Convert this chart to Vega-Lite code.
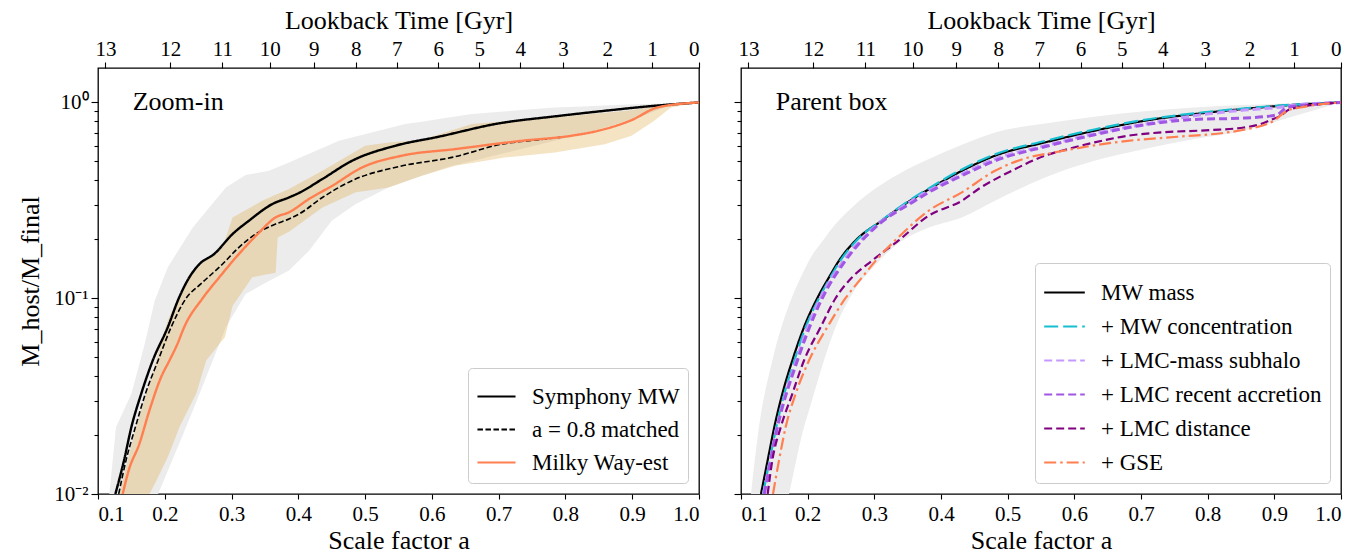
{
  "$schema": "https://vega.github.io/schema/vega-lite/v6.json",
  "background": "white",
  "padding": {"left": 17, "top": 6, "right": 3, "bottom": 1},
  "spacing": 31,
  "datasets": {
    "left_grey": [
      {"a":0.117,"lo":0.00251,"hi":0.01},{"a":0.127,"lo":0.00309,"hi":0.02198},{"a":0.15,"lo":0.00479,"hi":0.03251},
      {"a":0.17,"lo":0.00692,"hi":0.05848},{"a":0.185,"lo":0.00912,"hi":0.09727},{"a":0.19,"lo":0.01,"hi":0.1076},
      {"a":0.2045,"lo":0.01312,"hi":0.1439},{"a":0.232,"lo":0.02198,"hi":0.2032},{"a":0.242,"lo":0.02673,"hi":0.2301},
      {"a":0.262,"lo":0.03954,"hi":0.278},{"a":0.2915,"lo":0.07112,"hi":0.3681},{"a":0.321,"lo":0.1052,"hi":0.4256},
      {"a":0.356,"lo":0.1225,"hi":0.4477},{"a":0.386,"lo":0.1384,"hi":0.4943},{"a":0.416,"lo":0.175,"hi":0.547},
      {"a":0.45,"lo":0.2489,"hi":0.6138},{"a":0.4607,"lo":0.2636,"hi":0.6374},{"a":0.486,"lo":0.3027,"hi":0.6699},
      {"a":0.535,"lo":0.3681,"hi":0.7379},{"a":0.56,"lo":0.3945,"hi":0.7753},{"a":0.585,"lo":0.4227,"hi":0.798},
      {"a":0.625,"lo":0.4699,"hi":0.8375},{"a":0.66,"lo":0.5023,"hi":0.872},{"a":0.734,"lo":0.5781,"hi":0.9141},
      {"a":0.784,"lo":0.6372,"hi":0.943},{"a":0.834,"lo":0.7031,"hi":0.9572},{"a":0.8836,"lo":0.7907,"hi":0.9727},
      {"a":0.909,"lo":0.8385,"hi":0.9786},{"a":0.948,"lo":0.943,"hi":0.9874},{"a":1.0,"lo":1.0,"hi":1.0}
    ],
    "left_tan": [
      {"a":0.132,"lo":0.00513,"hi":0.01},{"a":0.157,"lo":0.00741,"hi":0.02198},{"a":0.177,"lo":0.01,"hi":0.03707},
      {"a":0.187,"lo":0.01161,"hi":0.04808},{"a":0.2045,"lo":0.01545,"hi":0.07691},{"a":0.215,"lo":0.01905,"hi":0.09183},
      {"a":0.222,"lo":0.02198,"hi":0.1033},{"a":0.237,"lo":0.0278,"hi":0.133},{"a":0.247,"lo":0.03251,"hi":0.1419},
      {"a":0.262,"lo":0.04808,"hi":0.1567},{"a":0.2866,"lo":0.0611,"hi":0.182},{"a":0.29,"lo":0.0631,"hi":0.1972},
      {"a":0.3015,"lo":0.0912,"hi":0.2588},{"a":0.331,"lo":0.1279,"hi":0.2944},{"a":0.346,"lo":0.1309,"hi":0.3148},
      {"a":0.366,"lo":0.1349,"hi":0.3373},{"a":0.369,"lo":0.2042,"hi":0.3404},{"a":0.386,"lo":0.2188,"hi":0.3614},
      {"a":0.436,"lo":0.2911,"hi":0.4477},{"a":0.486,"lo":0.3475,"hi":0.5636},{"a":0.5,"lo":0.3532,"hi":0.6012},
      {"a":0.535,"lo":0.3681,"hi":0.6252},{"a":0.585,"lo":0.4227,"hi":0.6457},{"a":0.635,"lo":0.4753,"hi":0.7295},
      {"a":0.66,"lo":0.4909,"hi":0.7762},{"a":0.709,"lo":0.5236,"hi":0.8017},{"a":0.784,"lo":0.5559,"hi":0.8433},
      {"a":0.859,"lo":0.6124,"hi":0.8872},{"a":0.899,"lo":0.6761,"hi":0.912},{"a":0.933,"lo":0.8064,"hi":0.9616},
      {"a":0.958,"lo":0.943,"hi":0.9795},{"a":1.0,"lo":1.0,"hi":1.0}
    ],
    "left_lines": [
      {"s":"Symphony MW","a":0.126,"v":0.01},{"s":"Symphony MW","a":0.139,"v":0.01486},{"s":"Symphony MW","a":0.15,"v":0.02198},
      {"s":"Symphony MW","a":0.1647,"v":0.03251},{"s":"Symphony MW","a":0.182,"v":0.04808},{"s":"Symphony MW","a":0.2045,"v":0.07112},
      {"s":"Symphony MW","a":0.221,"v":0.1},{"s":"Symphony MW","a":0.2368,"v":0.1279},{"s":"Symphony MW","a":0.252,"v":0.1496},
      {"s":"Symphony MW","a":0.274,"v":0.1683},{"s":"Symphony MW","a":0.3015,"v":0.2128},{"s":"Symphony MW","a":0.326,"v":0.2489},
      {"s":"Symphony MW","a":0.361,"v":0.3027},{"s":"Symphony MW","a":0.386,"v":0.3273},{"s":"Symphony MW","a":0.401,"v":0.345},
      {"s":"Symphony MW","a":0.436,"v":0.4064},{"s":"Symphony MW","a":0.4806,"v":0.504},{"s":"Symphony MW","a":0.5454,"v":0.6012},
      {"s":"Symphony MW","a":0.61,"v":0.6683},{"s":"Symphony MW","a":0.7,"v":0.7816},{"s":"Symphony MW","a":0.784,"v":0.8492},
      {"s":"Symphony MW","a":0.859,"v":0.9068},{"s":"Symphony MW","a":0.933,"v":0.9616},{"s":"Symphony MW","a":1.0,"v":1.0},
      {"s":"a = 0.8 matched","a":0.131,"v":0.01},{"s":"a = 0.8 matched","a":0.142,"v":0.01486},{"s":"a = 0.8 matched","a":0.156,"v":0.02198},
      {"s":"a = 0.8 matched","a":0.171,"v":0.03251},{"s":"a = 0.8 matched","a":0.19,"v":0.04808},{"s":"a = 0.8 matched","a":0.2095,"v":0.07112},
      {"s":"a = 0.8 matched","a":0.232,"v":0.1},{"s":"a = 0.8 matched","a":0.254,"v":0.1183},{"s":"a = 0.8 matched","a":0.2866,"v":0.1496},
      {"s":"a = 0.8 matched","a":0.311,"v":0.182},{"s":"a = 0.8 matched","a":0.336,"v":0.2128},{"s":"a = 0.8 matched","a":0.366,"v":0.2393},
      {"s":"a = 0.8 matched","a":0.386,"v":0.2541},{"s":"a = 0.8 matched","a":0.401,"v":0.2692},{"s":"a = 0.8 matched","a":0.436,"v":0.327},
      {"s":"a = 0.8 matched","a":0.4857,"v":0.4064},{"s":"a = 0.8 matched","a":0.55,"v":0.4699},{"s":"a = 0.8 matched","a":0.635,"v":0.5284},
      {"s":"a = 0.8 matched","a":0.7045,"v":0.613},{"s":"a = 0.8 matched","a":0.76,"v":0.645},{"s":"a = 0.8 matched","a":0.8,"v":0.668},
      {"s":"Milky Way-est","a":0.137,"v":0.01},{"s":"Milky Way-est","a":0.146,"v":0.01321},{"s":"Milky Way-est","a":0.162,"v":0.01807},
      {"s":"Milky Way-est","a":0.177,"v":0.02673},{"s":"Milky Way-est","a":0.1945,"v":0.03954},{"s":"Milky Way-est","a":0.207,"v":0.04808},
      {"s":"Milky Way-est","a":0.219,"v":0.05848},{"s":"Milky Way-est","a":0.229,"v":0.07112},{"s":"Milky Way-est","a":0.2567,"v":0.1},
      {"s":"Milky Way-est","a":0.2816,"v":0.1279},{"s":"Milky Way-est","a":0.311,"v":0.1683},{"s":"Milky Way-est","a":0.339,"v":0.2128},
      {"s":"Milky Way-est","a":0.366,"v":0.2588},{"s":"Milky Way-est","a":0.386,"v":0.2748},{"s":"Milky Way-est","a":0.416,"v":0.3214},
      {"s":"Milky Way-est","a":0.451,"v":0.3758},{"s":"Milky Way-est","a":0.4955,"v":0.4656},{"s":"Milky Way-est","a":0.555,"v":0.5346},
      {"s":"Milky Way-est","a":0.635,"v":0.5781},{"s":"Milky Way-est","a":0.734,"v":0.6368},{"s":"Milky Way-est","a":0.809,"v":0.6761},
      {"s":"Milky Way-est","a":0.849,"v":0.7168},{"s":"Milky Way-est","a":0.899,"v":0.8128},{"s":"Milky Way-est","a":0.938,"v":0.943},
      {"s":"Milky Way-est","a":1.0,"v":1.0}
    ],
    "right_grey": [
      {"a":0.115,"lo":0.00158,"hi":0.01},{"a":0.127,"lo":0.00209,"hi":0.02198},{"a":0.147,"lo":0.00417,"hi":0.04808},
      {"a":0.172,"lo":0.01,"hi":0.09226},{"a":0.1945,"lo":0.02198,"hi":0.1384},{"a":0.202,"lo":0.02673,"hi":0.1556},
      {"a":0.2244,"lo":0.04808,"hi":0.2},{"a":0.2418,"lo":0.07112,"hi":0.2393},{"a":0.2667,"lo":0.1052,"hi":0.2911},
      {"a":0.3015,"lo":0.1479,"hi":0.3631},{"a":0.336,"lo":0.1905,"hi":0.4305},{"a":0.381,"lo":0.2291,"hi":0.5129},
      {"a":0.4313,"lo":0.2588,"hi":0.6081},{"a":0.481,"lo":0.3148,"hi":0.7031},{"a":0.556,"lo":0.414,"hi":0.7798},
      {"a":0.63,"lo":0.5035,"hi":0.8465},{"a":0.705,"lo":0.5781,"hi":0.9024},{"a":0.78,"lo":0.6501,"hi":0.943},
      {"a":0.854,"lo":0.7161,"hi":0.9712},{"a":0.929,"lo":0.8511,"hi":0.9897},{"a":1.0,"lo":1.0,"hi":1.0}
    ],
    "right_lines": [
      {"s":"MW mass","a":0.13,"v":0.01},{"s":"MW mass","a":0.14,"v":0.01486},{"s":"MW mass","a":0.15,"v":0.02198},
      {"s":"MW mass","a":0.162,"v":0.03251},{"s":"MW mass","a":0.177,"v":0.04808},{"s":"MW mass","a":0.1945,"v":0.07112},
      {"s":"MW mass","a":0.2144,"v":0.1},{"s":"MW mass","a":0.232,"v":0.1279},{"s":"MW mass","a":0.247,"v":0.1556},
      {"s":"MW mass","a":0.2716,"v":0.1968},{"s":"MW mass","a":0.311,"v":0.2489},{"s":"MW mass","a":0.346,"v":0.3027},
      {"s":"MW mass","a":0.3816,"v":0.36},{"s":"MW mass","a":0.4313,"v":0.4477},{"s":"MW mass","a":0.481,"v":0.5346},
      {"s":"MW mass","a":0.556,"v":0.6252},{"s":"MW mass","a":0.63,"v":0.7168},{"s":"MW mass","a":0.705,"v":0.8064},
      {"s":"MW mass","a":0.78,"v":0.872},{"s":"MW mass","a":0.879,"v":0.943},{"s":"MW mass","a":0.929,"v":0.9727},
      {"s":"MW mass","a":1.0,"v":1.0},
      {"s":"+ MW concentration","a":0.133,"v":0.01},{"s":"+ MW concentration","a":0.143,"v":0.01486},{"s":"+ MW concentration","a":0.153,"v":0.02198},
      {"s":"+ MW concentration","a":0.165,"v":0.03251},{"s":"+ MW concentration","a":0.18,"v":0.04808},{"s":"+ MW concentration","a":0.197,"v":0.07112},
      {"s":"+ MW concentration","a":0.217,"v":0.1},{"s":"+ MW concentration","a":0.234,"v":0.1279},{"s":"+ MW concentration","a":0.249,"v":0.1556},
      {"s":"+ MW concentration","a":0.273,"v":0.1968},{"s":"+ MW concentration","a":0.311,"v":0.25},{"s":"+ MW concentration","a":0.346,"v":0.305},
      {"s":"+ MW concentration","a":0.3816,"v":0.364},{"s":"+ MW concentration","a":0.4313,"v":0.455},{"s":"+ MW concentration","a":0.481,"v":0.543},
      {"s":"+ MW concentration","a":0.556,"v":0.636},{"s":"+ MW concentration","a":0.63,"v":0.728},{"s":"+ MW concentration","a":0.705,"v":0.815},
      {"s":"+ MW concentration","a":0.78,"v":0.88},{"s":"+ MW concentration","a":0.879,"v":0.948},{"s":"+ MW concentration","a":0.929,"v":0.975},
      {"s":"+ MW concentration","a":1.0,"v":1.0},
      {"s":"+ LMC-mass subhalo","a":0.134,"v":0.01},{"s":"+ LMC-mass subhalo","a":0.144,"v":0.01486},{"s":"+ LMC-mass subhalo","a":0.154,"v":0.02198},
      {"s":"+ LMC-mass subhalo","a":0.167,"v":0.03251},{"s":"+ LMC-mass subhalo","a":0.183,"v":0.04808},{"s":"+ LMC-mass subhalo","a":0.2,"v":0.07112},
      {"s":"+ LMC-mass subhalo","a":0.219,"v":0.1},{"s":"+ LMC-mass subhalo","a":0.254,"v":0.1556},{"s":"+ LMC-mass subhalo","a":0.3,"v":0.2301},
      {"s":"+ LMC-mass subhalo","a":0.34,"v":0.29},{"s":"+ LMC-mass subhalo","a":0.3816,"v":0.354},{"s":"+ LMC-mass subhalo","a":0.4313,"v":0.4308},
      {"s":"+ LMC-mass subhalo","a":0.4811,"v":0.514},{"s":"+ LMC-mass subhalo","a":0.5557,"v":0.601},{"s":"+ LMC-mass subhalo","a":0.6304,"v":0.695},
      {"s":"+ LMC-mass subhalo","a":0.705,"v":0.775},{"s":"+ LMC-mass subhalo","a":0.7796,"v":0.855},{"s":"+ LMC-mass subhalo","a":0.8543,"v":0.914},
      {"s":"+ LMC-mass subhalo","a":0.904,"v":0.943},{"s":"+ LMC-mass subhalo","a":0.9289,"v":0.969},{"s":"+ LMC-mass subhalo","a":1.0,"v":1.0},
      {"s":"+ LMC recent accretion","a":0.135,"v":0.01},{"s":"+ LMC recent accretion","a":0.1547,"v":0.02198},{"s":"+ LMC recent accretion","a":0.1846,"v":0.04808},
      {"s":"+ LMC recent accretion","a":0.2219,"v":0.1},{"s":"+ LMC recent accretion","a":0.2567,"v":0.1556},{"s":"+ LMC recent accretion","a":0.3015,"v":0.2301},
      {"s":"+ LMC recent accretion","a":0.361,"v":0.3148},{"s":"+ LMC recent accretion","a":0.3816,"v":0.3475},{"s":"+ LMC recent accretion","a":0.4313,"v":0.4227},
      {"s":"+ LMC recent accretion","a":0.4811,"v":0.504},{"s":"+ LMC recent accretion","a":0.5557,"v":0.594},{"s":"+ LMC recent accretion","a":0.6304,"v":0.684},
      {"s":"+ LMC recent accretion","a":0.705,"v":0.769},{"s":"+ LMC recent accretion","a":0.7796,"v":0.819},{"s":"+ LMC recent accretion","a":0.8543,"v":0.832},
      {"s":"+ LMC recent accretion","a":0.904,"v":0.865},{"s":"+ LMC recent accretion","a":0.9189,"v":0.943},{"s":"+ LMC recent accretion","a":0.9537,"v":0.973},
      {"s":"+ LMC recent accretion","a":1.0,"v":1.0},
      {"s":"+ LMC distance","a":0.14,"v":0.01},{"s":"+ LMC distance","a":0.147,"v":0.01486},{"s":"+ LMC distance","a":0.1597,"v":0.02198},
      {"s":"+ LMC distance","a":0.177,"v":0.03251},{"s":"+ LMC distance","a":0.1945,"v":0.04808},{"s":"+ LMC distance","a":0.2194,"v":0.07112},
      {"s":"+ LMC distance","a":0.2418,"v":0.1},{"s":"+ LMC distance","a":0.2667,"v":0.1279},{"s":"+ LMC distance","a":0.2965,"v":0.1556},
      {"s":"+ LMC distance","a":0.336,"v":0.1968},{"s":"+ LMC distance","a":0.3816,"v":0.2642},{"s":"+ LMC distance","a":0.4313,"v":0.3148},
      {"s":"+ LMC distance","a":0.4562,"v":0.3614},{"s":"+ LMC distance","a":0.506,"v":0.4477},{"s":"+ LMC distance","a":0.5557,"v":0.5346},
      {"s":"+ LMC distance","a":0.5906,"v":0.5781},{"s":"+ LMC distance","a":0.6304,"v":0.6252},{"s":"+ LMC distance","a":0.6801,"v":0.6761},
      {"s":"+ LMC distance","a":0.7299,"v":0.7031},{"s":"+ LMC distance","a":0.8045,"v":0.7228},{"s":"+ LMC distance","a":0.8543,"v":0.7447},
      {"s":"+ LMC distance","a":0.8791,"v":0.7753},{"s":"+ LMC distance","a":0.894,"v":0.8128},{"s":"+ LMC distance","a":0.909,"v":0.8551},
      {"s":"+ LMC distance","a":0.9239,"v":0.9247},{"s":"+ LMC distance","a":1.0,"v":1.0},
      {"s":"+ GSE","a":0.148,"v":0.01},{"s":"+ GSE","a":0.157,"v":0.01486},{"s":"+ GSE","a":0.167,"v":0.02198},
      {"s":"+ GSE","a":0.182,"v":0.03251},{"s":"+ GSE","a":0.202,"v":0.04808},{"s":"+ GSE","a":0.2294,"v":0.07112},
      {"s":"+ GSE","a":0.2567,"v":0.1},{"s":"+ GSE","a":0.2816,"v":0.1279},{"s":"+ GSE","a":0.3065,"v":0.1618},
      {"s":"+ GSE","a":0.336,"v":0.2046},{"s":"+ GSE","a":0.3816,"v":0.2799},{"s":"+ GSE","a":0.4313,"v":0.3475},
      {"s":"+ GSE","a":0.4811,"v":0.4477},{"s":"+ GSE","a":0.5309,"v":0.5236},{"s":"+ GSE","a":0.5707,"v":0.5559},
      {"s":"+ GSE","a":0.6055,"v":0.5848},{"s":"+ GSE","a":0.6801,"v":0.6368},{"s":"+ GSE","a":0.7548,"v":0.6683},
      {"s":"+ GSE","a":0.8294,"v":0.7031},{"s":"+ GSE","a":0.8593,"v":0.7311},{"s":"+ GSE","a":0.899,"v":0.8064},
      {"s":"+ GSE","a":0.9189,"v":0.9068},{"s":"+ GSE","a":0.9388,"v":0.943},{"s":"+ GSE","a":1.0,"v":1.0}
    ]
  },
  "hconcat": [
    {
      "width": 601,
      "height": 426,
      "layer": [
        {
          "data": {"name": "left_grey"},
          "mark": {"type": "area", "fill": "#ececec", "clip": true},
          "encoding": {
            "x": {"field": "a", "type": "quantitative", "scale": {"domain": [0.1, 1.0], "nice": false, "zero": false},
              "axis": {"orient": "bottom", "values": [0.1,0.2,0.3,0.4,0.5,0.6,0.7,0.8,0.9,1.0], "format": ".1f", "tickSize": 5, "labelPadding": 4, "title": "Scale factor a", "titlePadding": 3}},
            "y": {"field": "lo", "type": "quantitative", "scale": {"type": "log", "domain": [0.01, 1.5], "nice": false},
              "axis": {"orient": "left", "values": [0.01, 0.1, 1], "tickSize": 7, "labelPadding": 3, "labelExpr": "datum.value < 0.05 ? '10⁻²' : (datum.value < 0.5 ? '10⁻¹' : '10⁰')", "title": "M_host/M_final", "titlePadding": 10}},
            "y2": {"field": "hi"}
          }
        },
        {
          "data": {"name": "left_tan"},
          "mark": {"type": "area", "fill": "#daa53a", "opacity": 0.3, "clip": true},
          "encoding": {
            "x": {"field": "a", "type": "quantitative",
              "axis": {"orient": "top", "values": [0.1112,0.2082,0.2864,0.3573,0.4229,0.4858,0.5472,0.6094,0.671,0.7325,0.7964,0.8627,0.9296,1.0], "labelExpr": "13 - indexof([0.1112,0.2082,0.2864,0.3573,0.4229,0.4858,0.5472,0.6094,0.671,0.7325,0.7964,0.8627,0.9296,1.0], datum.value)", "tickSize": 6, "labelPadding": 3, "title": "Lookback Time [Gyr]", "titlePadding": 5}},
            "y": {"field": "lo", "type": "quantitative",
              "axis": {"orient": "left", "values": [0.02,0.03,0.04,0.05,0.06,0.07,0.08,0.09,0.2,0.3,0.4,0.5,0.6,0.7,0.8,0.9], "labels": false, "tickSize": 4, "title": null}},
            "y2": {"field": "hi"}
          }
        },
        {
          "data": {"name": "left_lines"},
          "mark": {"type": "line", "clip": true, "interpolate": "monotone"},
          "encoding": {
            "x": {"field": "a", "type": "quantitative", "axis": null},
            "y": {"field": "v", "type": "quantitative", "axis": null},
            "color": {"field": "s", "type": "nominal",
              "scale": {"domain": ["Symphony MW", "a = 0.8 matched", "Milky Way-est"], "range": ["#000000", "#000000", "#ff7f50"]},
              "legend": {"orient": "bottom-right", "offset": 11, "title": null, "rowPadding": 0, "symbolSize": 1450}},
            "strokeDash": {"field": "s", "type": "nominal",
              "scale": {"domain": ["Symphony MW", "a = 0.8 matched", "Milky Way-est"], "range": [[1, 0], [5.5, 2.5], [1, 0]]},
              "legend": {"orient": "bottom-right", "offset": 11, "title": null, "rowPadding": 0, "symbolSize": 1450}},
            "strokeWidth": {"condition": {"test": "datum.s === 'a = 0.8 matched'", "value": 1.6}, "value": 2.4}
          }
        },
        {
          "data": {"values": [{}]},
          "mark": {"type": "text", "text": "Zoom-in", "align": "left", "baseline": "middle", "fontSize": 26, "font": "Liberation Serif", "color": "#000"},
          "encoding": {
            "x": {"datum": 0.152, "type": "quantitative", "axis": null},
            "y": {"datum": 1, "type": "quantitative", "axis": null}
          }
        }
      ],
      "resolve": {"axis": {"x": "independent", "y": "independent"}}
    },
    {
      "width": 600,
      "height": 426,
      "layer": [
        {
          "data": {"name": "right_grey"},
          "mark": {"type": "area", "fill": "#ececec", "clip": true, "interpolate": "monotone"},
          "encoding": {
            "x": {"field": "a", "type": "quantitative", "scale": {"domain": [0.1, 1.0], "nice": false, "zero": false},
              "axis": {"orient": "bottom", "values": [0.1,0.2,0.3,0.4,0.5,0.6,0.7,0.8,0.9,1.0], "format": ".1f", "tickSize": 5, "labelPadding": 4, "title": "Scale factor a", "titlePadding": 3}},
            "y": {"field": "lo", "type": "quantitative", "scale": {"type": "log", "domain": [0.01, 1.5], "nice": false},
              "axis": {"orient": "left", "values": [0.01, 0.1, 1], "tickSize": 7, "labels": false, "title": null}},
            "y2": {"field": "hi"}
          }
        },
        {
          "data": {"name": "right_lines"},
          "mark": {"type": "line", "clip": true, "interpolate": "monotone"},
          "encoding": {
            "x": {"field": "a", "type": "quantitative",
              "axis": {"orient": "top", "values": [0.1112,0.2082,0.2864,0.3573,0.4229,0.4858,0.5472,0.6094,0.671,0.7325,0.7964,0.8627,0.9296,1.0], "labelExpr": "13 - indexof([0.1112,0.2082,0.2864,0.3573,0.4229,0.4858,0.5472,0.6094,0.671,0.7325,0.7964,0.8627,0.9296,1.0], datum.value)", "tickSize": 6, "labelPadding": 3, "title": "Lookback Time [Gyr]", "titlePadding": 5}},
            "y": {"field": "v", "type": "quantitative",
              "axis": {"orient": "left", "values": [0.02,0.03,0.04,0.05,0.06,0.07,0.08,0.09,0.2,0.3,0.4,0.5,0.6,0.7,0.8,0.9], "labels": false, "tickSize": 4, "title": null}},
            "color": {"field": "s", "type": "nominal",
              "scale": {"domain": ["MW mass", "+ MW concentration", "+ LMC-mass subhalo", "+ LMC recent accretion", "+ LMC distance", "+ GSE"], "range": ["#000000", "#17becf", "#c597ff", "#a157e3", "#800080", "#ff7f50"]},
              "legend": {"orient": "bottom-right", "offset": 11, "title": null, "rowPadding": 0, "symbolSize": 1650}},
            "strokeDash": {"field": "s", "type": "nominal",
              "scale": {"domain": ["MW mass", "+ MW concentration", "+ LMC-mass subhalo", "+ LMC recent accretion", "+ LMC distance", "+ GSE"], "range": [[1, 0], [14, 5], [8, 4], [8, 4], [8, 4], [12, 4, 2.5, 4]]},
              "legend": {"orient": "bottom-right", "offset": 11, "title": null, "rowPadding": 0, "symbolSize": 1650}},
            "strokeWidth": {"condition": {"test": "datum.s === '+ LMC-mass subhalo' || datum.s === '+ LMC recent accretion'", "value": 3}, "value": 2.2}
          }
        },
        {
          "data": {"values": [{}]},
          "mark": {"type": "text", "text": "Parent box", "align": "left", "baseline": "middle", "fontSize": 26, "font": "Liberation Serif", "color": "#000"},
          "encoding": {
            "x": {"datum": 0.152, "type": "quantitative", "axis": null},
            "y": {"datum": 1, "type": "quantitative", "axis": null}
          }
        }
      ],
      "resolve": {"axis": {"x": "independent", "y": "independent"}}
    }
  ],
  "resolve": {"scale": {"color": "independent", "strokeDash": "independent"}},
  "config": {
    "font": "Liberation Serif",
    "text": {"font": "Liberation Serif"},
    "view": {"stroke": "#000000", "strokeWidth": 1.3},
    "axis": {
      "grid": false, "domain": false, "tickColor": "#000000", "tickWidth": 1.1,
      "labelColor": "#000000", "titleColor": "#000000",
      "labelFont": "Liberation Serif", "titleFont": "Liberation Serif",
      "labelFontSize": 21, "titleFontSize": 26, "titleFontWeight": "normal"
    },
    "legend": {
      "symbolType": "stroke", "symbolSize": 2300, "symbolStrokeWidth": 2,
      "labelFont": "Liberation Serif", "labelFontSize": 23, "labelColor": "#000000", "labelOffset": 15, "labelLimit": 400,
      "padding": 8, "fillColor": "rgba(255,255,255,0.85)", "strokeColor": "#cccccc", "cornerRadius": 4
    }
  }
}
